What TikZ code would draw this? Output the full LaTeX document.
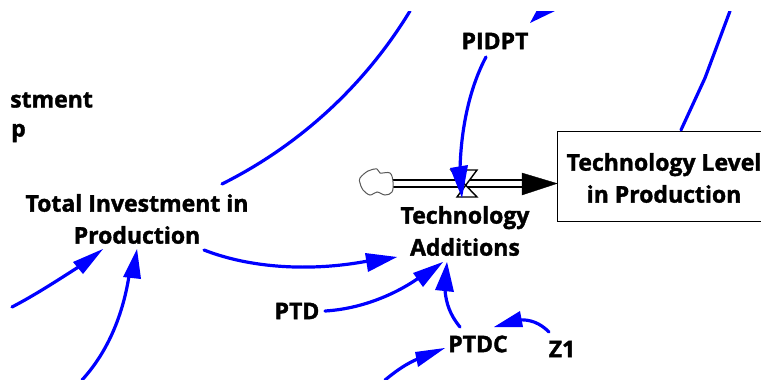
\documentclass[tikz,border=0pt]{standalone}
\usepackage{fontspec}
\setmainfont[BoldFeatures={FakeBold=1.6}]{Open Sans}
\usetikzlibrary{arrows.meta}
\tikzset{
	x=1pt, y=-1pt,
	lbl/.style={font=\bfseries\fontsize{23}{32}\selectfont, align=center, inner sep=0pt, text=black},
	link/.style={draw=blue, line width=3.2pt, line cap=round},
	linkhead/.style={fill=blue, draw=none},
	pipe/.style={draw=black, line width=1.6pt}
}

\begin{document}
\begin{tikzpicture}
		%%%%% START %%%%%
		\useasboundingbox (0, 0) rectangle (761, 380);
		\clip (0, 11) rectangle (761, 380);
		
		\node[lbl, anchor=west] (stment) at (10, 100) {stment};
		\node[lbl, anchor=west] (p) at (11, 133) {p};
		\node[lbl] (total) at (137, 219) {Total Investment in\\Production};
		\node[lbl] (additions) at (465, 231) {Technology\\Additions};
		\node[lbl] (pidpt) at (495, 41) {PIDPT};
		\node[lbl] (ptd) at (297, 311) {PTD};
		\node[lbl] (ptdc) at (478, 344) {PTDC};
		\node[lbl] (zone) at (562, 349) {Z1};
		
		\node[draw=black, line width=1.4pt, minimum width=300pt, minimum height=90pt, anchor=north west, inner sep=0pt] (level) at (557, 131) {};
		\node[lbl, anchor=center] (leveltext) at (664, 178) {Technology Level\\in Production};
		
		\coordinate (cloudend) at (393, 183.5);
		\draw[pipe] (cloudend) ++(0, -3.5) -- ++(130, 0);
		\draw[pipe] (cloudend) ++(0, 3.5) -- ++(130, 0);
		\draw[fill=black] (522, 173) -- (557, 183.5) -- (522, 195) -- cycle;
		\draw[black!65, fill=white, line width=1pt] plot[smooth cycle, tension=0.6] coordinates {(360, 178) (368, 171) (377, 169) (380, 173) (390, 173) (393, 182) (392, 192) (385, 195) (377, 192) (370, 195) (363, 190) (360, 183)};
		\draw[black, line width=1.4pt, fill=white] (451, 170) -- (477, 170) -- (457, 197) -- (477, 197) -- cycle;
		
		\draw[link] (pidpt) ++(-9, 16) coordinate (pidptout) .. controls (471, 85) and (461, 125) .. (460, 170);
		\fill[linkhead] (450, 168) -- (468, 165) -- (462, 198) -- cycle;
		
		\draw[link] (222, 184) coordinate (arcin) .. controls (300, 145) and (365, 85) .. (410, 11) coordinate (arcout);
		\draw[link] (681, 130) coordinate (levelin) -- (705, 78) -- (730, 11) coordinate (levelout);
		\fill[linkhead] (530, 23) -- (537, 10) -- (557, 10) -- cycle;
		
		\draw[link] (204, 250) coordinate (totalout) .. controls (250, 268) and (310, 272) .. (368, 261);
		\fill[linkhead] (365, 253) -- (397, 257) -- (368, 272) -- cycle;
		
		\draw[link] (325, 311) coordinate (ptdout) .. controls (360, 309) and (395, 295) .. (420, 277);
		\fill[linkhead] (413, 273) -- (443, 262) -- (423, 287) -- cycle;
		
		\draw[link] (460, 327) coordinate (ptdcout) .. controls (450, 315) and (446, 303) .. (445, 290);
		\fill[linkhead] (435, 290) -- (447, 262) -- (454, 292) -- cycle;
		
		\draw[link] (549, 332) coordinate (zout) .. controls (540, 323) and (530, 319) .. (518, 320);
		\fill[linkhead] (494, 327) -- (520, 311) -- (523, 327) -- cycle;
		
		\draw[link] (385, 380) coordinate (ptdcin) .. controls (395, 372) and (405, 364) .. (420, 358);
		\fill[linkhead] (415, 352) -- (445, 348) -- (418, 367) -- cycle;
		
		\draw[link] (12, 307) coordinate (leftone) .. controls (35, 295) and (55, 282) .. (80, 266);
		\fill[linkhead] (73, 262) -- (103, 249) -- (83, 274) -- cycle;
		
		\draw[link] (82, 380) coordinate (lefttwo) .. controls (105, 355) and (122, 320) .. (129, 276);
		\fill[linkhead] (123, 277) -- (137, 249) -- (141, 279) -- cycle;
		
		%%%%% END %%%%%
	\end{tikzpicture}
\end{document}
